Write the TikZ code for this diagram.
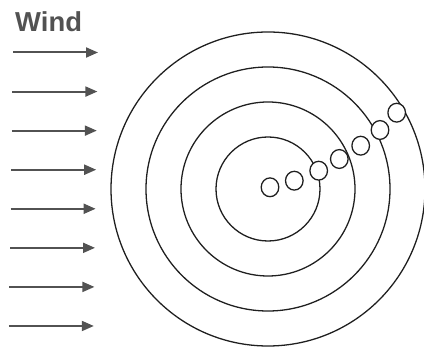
\documentclass[tikz,border=0pt]{standalone}
\usepackage{fontspec}
\setmainfont{Liberation Sans}
\usepackage{xcolor}
\colorlet{colWind}{black!68}
\colorlet{colRing}{black!88}
\usetikzlibrary{arrows.meta, positioning}
\tikzset{
	ring/.style={draw=colRing, line width=1.1pt},
	droplet/.style={draw=colRing, line width=1.1pt, fill=white},
	windarr/.style={draw=colWind, line width=1.7pt, -{Triangle[length=0.36cm, width=0.3cm]}},
}

\begin{document}
\begin{tikzpicture}[
				x=0.03cm, y=0.03cm,
				windlabel/.style={font=\fontsize{23.4}{28}\selectfont\bfseries, text=colWind, inner sep=0pt, anchor=base west}
			]
				\useasboundingbox (0,0) rectangle (424,347);

				% Wind label and arrows
				\node[windlabel] (wind) at (15,315.3) {Wind};
				\foreach \i in {0,...,7}{
					\coordinate (a\i) at ({13-0.6*\i},{294.5-39.07*\i});
					\coordinate (b\i) at ({98-0.6*\i},{294.5-39.07*\i});
					\draw[windarr] (a\i) -- (b\i);
				}

				% Rings
				\coordinate (ctr) at (268,158);
				\foreach \r in {52,87,122,157}
					\draw[ring] (ctr) circle[radius=\r];

				% Small circles along the diagonal
				\foreach \px/\py in {270/159.7, 294.3/166.3, 318.7/176.3, 339.3/188, 360.7/201.3, 380/217, 396.7/234.3}
					\draw[droplet] (\px,\py) circle[x radius=8.8, y radius=9.4];
			\end{tikzpicture}
\end{document}
